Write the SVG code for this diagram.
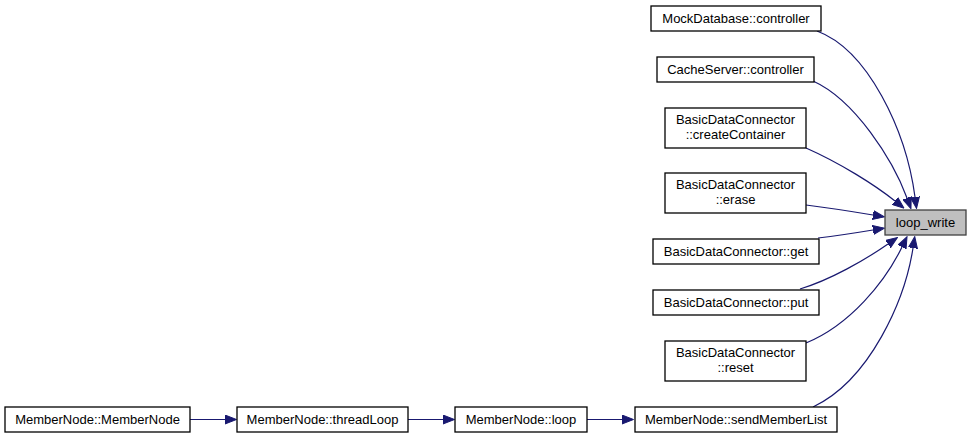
<svg xmlns="http://www.w3.org/2000/svg" width="972" height="439" viewBox="0 0 972 439">
<style>
.n rect{fill:#ffffff;stroke:#000000;stroke-width:1.3}
.n.cur rect{fill:#bfbfbf;stroke:#404040}
.n text{font-family:"Liberation Sans",Arial,sans-serif;font-size:13px;fill:#000;text-anchor:middle}
.e path{fill:none;stroke:#191970;stroke-width:1.2;marker-end:url(#ah)}
</style>
<defs>
<marker id="ah" markerUnits="userSpaceOnUse" markerWidth="12" markerHeight="10" refX="0" refY="4.5" orient="auto" viewBox="0 0 12 9">
<polygon points="0,0 11.5,4.5 0,9" fill="#191970" stroke="#191970"/>
</marker>
</defs>
<rect width="972" height="439" fill="#ffffff"/>
<g id="edges" class="e">
<path d="M817,31 C868,50 906,130 915,197"/>
<path d="M813,81 C855,100 893,160 907,198"/>
<path d="M806,148 C840,163 875,185 895,201"/>
<path d="M806,205 C830,208 855,212 873,215"/>
<path d="M818,238 C835,236 855,233 873,230"/>
<path d="M800,289 C830,280 865,260 888,244"/>
<path d="M806,343 C850,325 885,282 902,247"/>
<path d="M813,407 C870,380 905,300 913,248"/>
<path d="M190,419.5 L225,419.5"/>
<path d="M408,419.5 L443,419.5"/>
<path d="M587,419.5 L622,419.5"/>
</g>
<g id="loop_write" class="n cur"><rect x="885" y="210" width="81" height="25"/><text x="925.5" y="227">loop_write</text></g>
<g id="mock_controller" class="n"><rect x="651" y="6" width="170" height="25"/><text x="736" y="23">MockDatabase::controller</text></g>
<g id="cache_controller" class="n"><rect x="657" y="57" width="157" height="25"/><text x="735.5" y="74">CacheServer::controller</text></g>
<g id="bdc_createContainer" class="n"><rect x="665" y="108" width="141" height="40"/><text x="735.5" y="124">BasicDataConnector</text><text x="735.5" y="139">::createContainer</text></g>
<g id="bdc_erase" class="n"><rect x="665" y="173" width="141" height="40"/><text x="735.5" y="189">BasicDataConnector</text><text x="735.5" y="204">::erase</text></g>
<g id="bdc_get" class="n"><rect x="653" y="239" width="166" height="25"/><text x="736" y="256">BasicDataConnector::get</text></g>
<g id="bdc_put" class="n"><rect x="653" y="290" width="166" height="25"/><text x="736" y="307">BasicDataConnector::put</text></g>
<g id="bdc_reset" class="n"><rect x="665" y="341" width="141" height="40"/><text x="735.5" y="357">BasicDataConnector</text><text x="735.5" y="372">::reset</text></g>
<g id="mn_sendMemberList" class="n"><rect x="635" y="407" width="202" height="25"/><text x="736" y="424">MemberNode::sendMemberList</text></g>
<g id="mn_loop" class="n"><rect x="455" y="407" width="132" height="25"/><text x="521" y="424">MemberNode::loop</text></g>
<g id="mn_threadLoop" class="n"><rect x="237" y="407" width="171" height="25"/><text x="322.5" y="424">MemberNode::threadLoop</text></g>
<g id="mn_MemberNode" class="n"><rect x="5" y="407" width="185" height="25"/><text x="97.5" y="424">MemberNode::MemberNode</text></g>
</svg>
